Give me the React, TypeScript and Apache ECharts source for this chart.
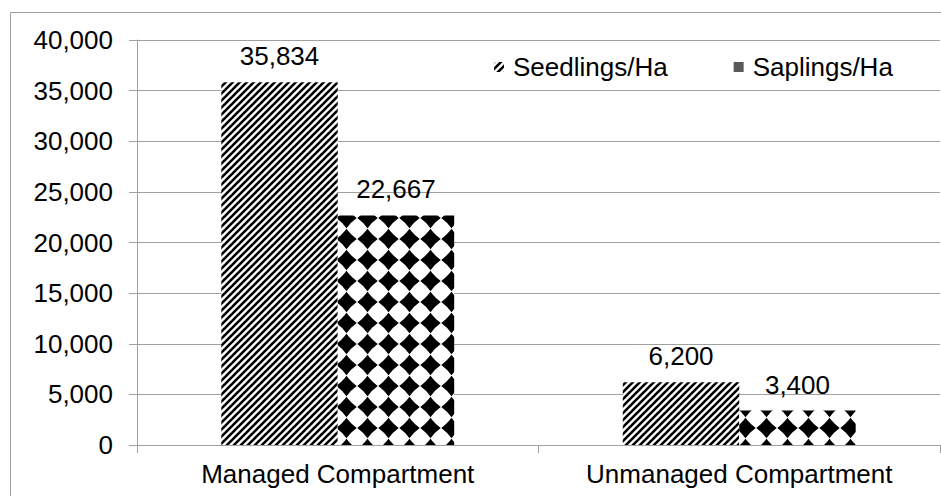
import React, { useEffect, useRef } from "react";
import * as echarts from "echarts";

const categories = ["Managed Compartment", "Unmanaged Compartment"];
const seedlings = [35834, 6200];
const saplings = [22667, 3400];
const seriesNames = ["Seedlings/Ha", "Saplings/Ha"];

const FONT = "Arial, 'Liberation Sans', sans-serif";

function stripeTile(): string {
  const s = 7;
  const c = document.createElement("canvas");
  c.width = s;
  c.height = s;
  const ctx = c.getContext("2d")!;
  ctx.fillStyle = "#fff";
  ctx.fillRect(0, 0, s, s);
  ctx.strokeStyle = "#000";
  ctx.lineWidth = 2.6;
  for (const k of [0, s, 2 * s]) {
    ctx.beginPath();
    ctx.moveTo(k + 1, -1);
    ctx.lineTo(k - s - 1, s + 1);
    ctx.stroke();
  }
  return c.toDataURL();
}

function diamondTile(): string {
  const s = 21;
  const c = document.createElement("canvas");
  c.width = s;
  c.height = s;
  const ctx = c.getContext("2d")!;
  ctx.fillStyle = "#fff";
  ctx.fillRect(0, 0, s, s);
  ctx.fillStyle = "#000";
  const r = 10.2, k = 4.3;
  const draw = (cx: number, cy: number) => {
    ctx.beginPath();
    ctx.moveTo(cx, cy - r);
    ctx.quadraticCurveTo(cx + k, cy - k, cx + r, cy);
    ctx.quadraticCurveTo(cx + k, cy + k, cx, cy + r);
    ctx.quadraticCurveTo(cx - k, cy + k, cx - r, cy);
    ctx.quadraticCurveTo(cx - k, cy - k, cx, cy - r);
    ctx.closePath();
    ctx.fill();
  };
  for (const dy of [-s, 0, s]) draw(10.5, 8 + dy);
  return c.toDataURL();
}

export default function App() {
  const ref = useRef<HTMLDivElement>(null);
  useEffect(() => {
    if (!ref.current) return;
    const chart = echarts.init(ref.current, undefined, { renderer: "svg" });
    const stripe = { image: stripeTile(), repeat: "repeat", imageWidth: 7, imageHeight: 7 } as any;
    const diamond = { image: diamondTile(), repeat: "repeat", imageWidth: 21, imageHeight: 21 } as any;
    const labelStyle = {
      show: true,
      position: "top",
      distance: 13,
      fontSize: 26,
      fontFamily: FONT,
      color: "#000",
      formatter: (p: any) => Number(p.value).toLocaleString("en-US"),
    };
    chart.setOption({
      animation: false,
      backgroundColor: "#fff",
      textStyle: { fontFamily: FONT },
      graphic: [
        {
          type: "rect",
          shape: { x: 10.5, y: 12.5, width: 1000, height: 1000 },
          style: { fill: "none", stroke: "#a0a0a0", lineWidth: 1 },
          silent: true,
          z: -10,
        },
      ],
      grid: { left: 137, right: 1, top: 40, bottom: 51, containLabel: false },
      legend: {
        left: 489,
        top: 49,
        itemWidth: 10,
        itemHeight: 10,
        itemGap: 66,
        textStyle: { fontSize: 26, fontFamily: FONT, color: "#000", padding: [0, 0, 0, 4] },
        data: [
          { name: seriesNames[0], icon: "roundRect" },
          { name: seriesNames[1], icon: "rect", itemStyle: { color: "#595959" } },
        ],
      },
      xAxis: {
        type: "category",
        data: categories,
        axisLine: { lineStyle: { color: "#a0a0a0", width: 1 } },
        axisTick: { show: true, length: 8, lineStyle: { color: "#a0a0a0" } },
        axisLabel: { fontSize: 26, fontFamily: FONT, color: "#000", margin: 16 },
      },
      yAxis: {
        type: "value",
        min: 0,
        max: 40000,
        interval: 5000,
        axisLine: { show: true, lineStyle: { color: "#a0a0a0", width: 1 } },
        axisTick: { show: true, length: 8, lineStyle: { color: "#a0a0a0" } },
        axisLabel: {
          fontSize: 26,
          fontFamily: FONT,
          color: "#000",
          margin: 24,
          formatter: (v: number) => v.toLocaleString("en-US"),
        },
        splitLine: { lineStyle: { color: "#a0a0a0", width: 1 } },
      },
      series: [
        {
          name: seriesNames[0],
          type: "bar",
          data: seedlings,
          barGap: "0%",
          barCategoryGap: "42%",
          itemStyle: { color: stripe },
          label: labelStyle,
        },
        {
          name: seriesNames[1],
          type: "bar",
          data: saplings,
          barGap: "0%",
          barCategoryGap: "42%",
          itemStyle: { color: diamond },
          label: labelStyle,
        },
      ],
    });
    return () => chart.dispose();
  }, []);
  return (
    <div
      ref={ref}
      style={{ position: "absolute", left: 0, top: 0, width: 941, height: 496 }}
    />
  );
}
